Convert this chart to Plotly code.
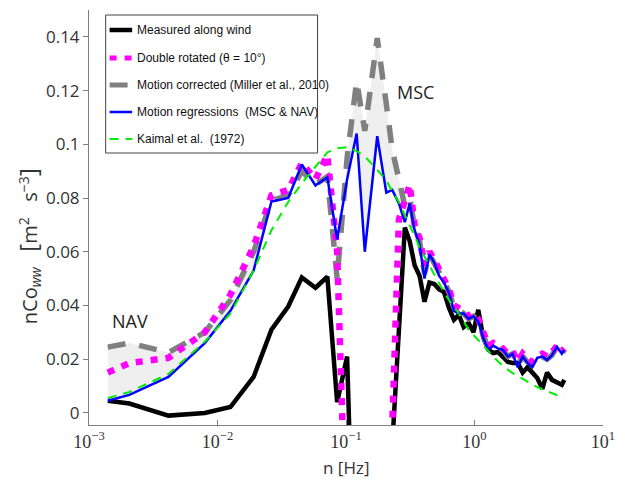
import plotly.graph_objects as go

# Frequency bins [Hz] and normalised w-w cospectra nCo_ww [m^2 s^-3]
freq = [0.00140, 0.00206, 0.00415, 0.00796, 0.0126, 0.0191, 0.0263, 0.0355, 0.0453, 0.0579,
        0.0716, 0.0853, 0.102, 0.121, 0.140, 0.175, 0.206, 0.229, 0.258, 0.287,
        0.313, 0.342, 0.374, 0.408, 0.446, 0.486, 0.531, 0.579, 0.634, 0.692,
        0.755, 0.824, 0.900, 0.982, 1.07, 1.17, 1.28, 1.40, 1.52, 1.66,
        1.82, 1.98, 2.17, 2.37, 2.58, 2.82, 3.08, 3.37, 3.67, 4.01,
        4.38, 4.78, 5.0]

measured = [0.0045, 0.0035, -0.001, 0.0, 0.0022, 0.0134, 0.031, 0.0396, 0.0504, 0.0466,
            0.0507, 0.004, 0.021, -0.2, -0.2, -0.2, -0.2, -0.012, 0.029, 0.069,
            0.064, 0.055, 0.051, 0.0414, 0.0485, 0.048, 0.046, 0.045, 0.039, 0.0347,
            0.0365, 0.032, 0.0335, 0.030, 0.0384, 0.028, 0.0235, 0.0223, 0.0227, 0.021,
            0.019, 0.0186, 0.0186, 0.015, 0.017, 0.015, 0.013, 0.009, 0.015, 0.0123,
            0.0115, 0.0105, 0.0123]

double_rotated = [0.015, 0.0185, 0.0205, 0.030, 0.044, 0.062, 0.081, 0.083, 0.093, 0.087,
                  0.096, 0.06, -0.06, -0.2, -0.2, -0.2, -0.2, -0.005, 0.072, 0.08,
                  0.085, 0.07, 0.065, 0.055, 0.06, 0.057, 0.053, 0.05, 0.046, 0.04,
                  0.039, 0.038, 0.036, 0.037, 0.035, 0.03, 0.025, 0.026, 0.025, 0.024,
                  0.022, 0.023, 0.019, 0.022, 0.02, 0.019, 0.021, 0.022, 0.021, 0.0225,
                  0.025, 0.023, 0.024]

motion_corrected = [0.0245, 0.026, 0.0225, 0.030, 0.042, 0.060, 0.079, 0.081, 0.090, 0.085,
                    0.088, 0.05, 0.095, 0.1235, 0.105, 0.1395, 0.115, 0.098, 0.087, 0.077,
                    0.08, 0.069, 0.064, 0.052, 0.059, 0.056, 0.052, 0.049, 0.045, 0.039,
                    0.038, 0.037, 0.035, 0.036, 0.034, 0.029, 0.024, 0.025, 0.024, 0.0235,
                    0.021, 0.022, 0.018, 0.021, 0.019, 0.018, 0.0205, 0.021, 0.02, 0.0215,
                    0.0245, 0.022, 0.0235]

motion_regressions = [0.0045, 0.0067, 0.0134, 0.026, 0.038, 0.053, 0.0787, 0.080, 0.0925, 0.0847,
                      0.0877, 0.0646, 0.087, 0.104, 0.060, 0.103, 0.082, 0.083, 0.078, 0.071,
                      0.078, 0.068, 0.0626, 0.050, 0.059, 0.056, 0.051, 0.0485, 0.0447, 0.038,
                      0.037, 0.037, 0.035, 0.036, 0.034, 0.028, 0.0235, 0.025, 0.024, 0.0235,
                      0.021, 0.022, 0.017, 0.021, 0.0186, 0.017, 0.0205, 0.021, 0.0197, 0.0215,
                      0.0246, 0.022, 0.0235]

kaimal = [0.0055, 0.0078, 0.0145, 0.0265, 0.037, 0.053, 0.068, 0.0785, 0.0855, 0.0917,
          0.097, 0.0985, 0.0989, 0.0975, 0.0955, 0.0905, 0.0865, 0.0826, 0.0785, 0.0735,
          0.07, 0.066, 0.0615, 0.0585, 0.055, 0.0515, 0.048, 0.045, 0.042, 0.0395,
          0.037, 0.034, 0.031, 0.029, 0.027, 0.025, 0.0228, 0.021, 0.0192, 0.0175,
          0.016, 0.0148, 0.0137, 0.0126, 0.0115, 0.0105, 0.0096, 0.0088, 0.008, 0.0073,
          0.0066, 0.006, 0.0057]

legend_labels = ["Measured along wind", "Double rotated (θ = 10°)",
                 "Motion corrected (Miller et al., 2010)",
                 "Motion regressions&nbsp;&nbsp;(MSC &amp; NAV)", "Kaimal et al.&nbsp;&nbsp;(1972)"]

x_tickvals = [1e-3, 1e-2, 1e-1, 1e0, 1e1]
x_ticktext = ["10<sup>−3</sup>", "10<sup>−2</sup>", "10<sup>−1</sup>", "10<sup>0</sup>", "10<sup>1</sup>"]
y_tickvals = [0, 0.02, 0.04, 0.06, 0.08, 0.1, 0.12, 0.14]
y_ticktext = ["0", "0.02", "0.04", "0.06", "0.08", "0.1", "0.12", "0.14"]

# series styles: colour, width, dash
styles = {
    "measured": dict(color="#000000", width=4.5, dash="solid"),
    "double": dict(color="#ff00ff", width=6.5, dash="7px,8px"),
    "corrected": dict(color="#808080", width=5.5, dash="18px,14px"),
    "regress": dict(color="#0000ff", width=2.5, dash="solid"),
    "kaimal": dict(color="#00ee00", width=2, dash="9px,7px"),
}

W_FIG, H_FIG = 625, 489
L, T, R, B = 89, 10, 12, 64
PW, PH = W_FIG - L - R, H_FIG - T - B


def px(x):
    return (x - L) / PW


def py(y):
    return (T + PH - y) / PH


fig = go.Figure()

# shaded band between the motion-corrected and regression-corrected spectra
fig.add_trace(go.Scatter(
    x=freq + freq[::-1], y=motion_corrected + motion_regressions[::-1],
    fill="toself", fillcolor="rgb(239,239,239)", line=dict(width=0),
    mode="lines", hoverinfo="skip", showlegend=False))

fig.add_trace(go.Scatter(x=freq, y=measured, mode="lines", line=styles["measured"],
                         name="Measured along wind", showlegend=False))
fig.add_trace(go.Scatter(x=freq, y=motion_corrected, mode="lines", line=styles["corrected"],
                         name="Motion corrected", showlegend=False))
fig.add_trace(go.Scatter(x=freq, y=double_rotated, mode="lines", line=styles["double"],
                         name="Double rotated", showlegend=False))
fig.add_trace(go.Scatter(x=freq, y=motion_regressions, mode="lines", line=styles["regress"],
                         name="Motion regressions", showlegend=False))
fig.add_trace(go.Scatter(x=freq, y=kaimal, mode="lines", line=styles["kaimal"],
                         name="Kaimal et al. (1972)", showlegend=False))

shapes = []
annotations = []

# legend box
shapes.append(dict(type="rect", xref="paper", yref="paper",
                   x0=px(106), x1=px(322), y0=py(153), y1=py(15),
                   fillcolor="white", line=dict(color="#444444", width=1), layer="above"))
legend_styles = [styles["measured"], styles["double"], styles["corrected"],
                 styles["regress"], styles["kaimal"]]
legend_rows = [30, 58, 85, 112, 139]
for label, st, yy in zip(legend_labels, legend_styles, legend_rows):
    shapes.append(dict(type="line", xref="paper", yref="paper",
                       x0=px(110), x1=px(133), y0=py(yy), y1=py(yy),
                       line=dict(color=st["color"], width=min(st["width"], 5),
                                 dash=st["dash"]), layer="above"))
    annotations.append(dict(text=label, xref="paper", yref="paper",
                            x=px(136), y=py(yy), xanchor="left", yanchor="middle",
                            showarrow=False,
                            font=dict(family="Liberation Sans", size=12, color="#111111")))

# region labels
annotations.append(dict(text="NAV", xref="paper", yref="paper", x=px(131), y=py(321),
                        xanchor="center", yanchor="middle", showarrow=False,
                        font=dict(family="Open Sans", size=18, color="#222222")))
annotations.append(dict(text="MSC", xref="paper", yref="paper", x=px(422), y=py(92),
                        xanchor="center", yanchor="middle", showarrow=False,
                        font=dict(family="Open Sans", size=18, color="#222222")))

# axis titles
annotations.append(dict(text="n [Hz]", xref="paper", yref="paper", x=px(351), y=py(467),
                        xanchor="center", yanchor="middle", showarrow=False,
                        font=dict(family="Open Sans", size=17, color="#333333")))
annotations.append(dict(
    text=("nCo<sub><i>ww</i></sub>&nbsp;&nbsp;&nbsp;"
          "<span style='font-size:24px'>[</span>m<sup>2</sup>&nbsp;&nbsp;&nbsp;"
          "s<sup>−3</sup><span style='font-size:24px'>]</span>"),
    xref="paper", yref="paper", x=px(27), y=py(246), textangle=-90,
    xanchor="center", yanchor="middle", showarrow=False,
    font=dict(family="Open Sans", size=20, color="#333333")))

fig.update_layout(
    width=W_FIG, height=H_FIG,
    margin=dict(l=L, r=R, t=T, b=B),
    paper_bgcolor="white", plot_bgcolor="white",
    showlegend=False,
    shapes=shapes, annotations=annotations,
    xaxis=dict(type="log", range=[-3, 1], tickvals=x_tickvals, ticktext=x_ticktext,
               showline=True, linecolor="#7f7f7f", linewidth=1,
               ticks="inside", ticklen=5, tickcolor="#7f7f7f",
               ticklabeloverflow="allow",
               tickfont=dict(family="Liberation Serif", size=18, color="#333333"),
               showgrid=False, zeroline=False),
    yaxis=dict(range=[-0.0045, 0.15], tickvals=y_tickvals, ticktext=y_ticktext,
               showline=True, linecolor="#7f7f7f", linewidth=1,
               ticks="outside", ticklen=5, tickcolor="#7f7f7f",
               tickfont=dict(family="Open Sans", size=17, color="#333333"),
               showgrid=False, zeroline=False),
)

fig.write_html("out.html")
